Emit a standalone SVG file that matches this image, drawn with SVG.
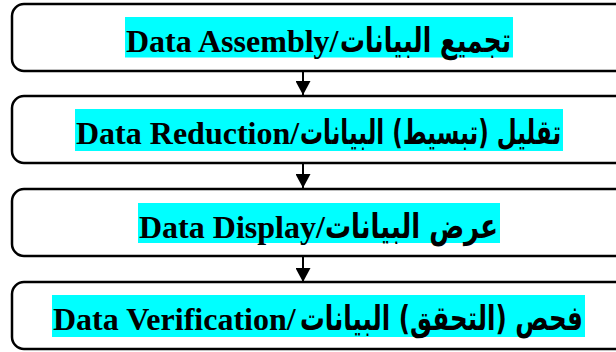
<svg xmlns="http://www.w3.org/2000/svg" width="616" height="352" viewBox="0 0 616 352">
  <style>
    .box { fill: #ffffff; stroke: #000000; stroke-width: 2.5; }
    .hl { fill: #00ffff; }
    .en { font-family: "Liberation Serif", "Times New Roman", serif; font-weight: bold; font-size: 32px; fill: #000000; }
    .ar { font-family: "DejaVu Sans", "Liberation Sans", sans-serif; font-weight: bold; font-size: 34px; fill: #000000; }
    .link { stroke: #000000; stroke-width: 2; fill: none; }
  </style>
  <defs>
    <marker id="head" viewBox="0 0 14 15" refX="14" refY="7.5" markerWidth="14" markerHeight="15" markerUnits="userSpaceOnUse" orient="auto">
      <path d="M0,0 L14,7.5 L0,15 z" fill="#000000"/>
    </marker>
  </defs>

  <rect width="616" height="352" fill="#ffffff"/>

  <g id="connectors">
    <line class="link" x1="303" y1="71" x2="303" y2="95" marker-end="url(#head)"/>
    <line class="link" x1="303" y1="163" x2="303" y2="188" marker-end="url(#head)"/>
    <line class="link" x1="303" y1="256" x2="303" y2="282" marker-end="url(#head)"/>
  </g>

  <g id="assembly">
    <rect class="box" x="12" y="4" width="620" height="67" rx="12"/>
    <rect class="hl" x="125" y="17" width="388" height="40.5"/>
    <text class="en" x="126" y="52">Data Assembly/</text>
    <text class="ar" x="340" y="52" textLength="171" lengthAdjust="spacingAndGlyphs">تجميع البيانات</text>
  </g>

  <g id="reduction">
    <rect class="box" x="12" y="96" width="620" height="67" rx="12"/>
    <rect class="hl" x="75" y="109" width="488" height="42"/>
    <text class="en" x="76" y="144">Data Reduction/</text>
    <!-- Arabic run narrowed horizontally to fit the highlight -->
    <text class="ar" transform="translate(300,144) scale(0.7,1)" x="0" y="0" textLength="373" lengthAdjust="spacingAndGlyphs">تقليل (تبسيط) البيانات</text>
  </g>

  <g id="display">
    <rect class="box" x="12" y="189" width="620" height="67" rx="12"/>
    <rect class="hl" x="138" y="203" width="362" height="40"/>
    <text class="en" x="139" y="238">Data Display/</text>
    <text class="ar" x="325" y="238" textLength="173" lengthAdjust="spacingAndGlyphs">عرض البيانات</text>
  </g>

  <g id="verification">
    <rect class="box" x="12" y="282" width="620" height="67" rx="12"/>
    <rect class="hl" x="52" y="295" width="533" height="42"/>
    <text class="en" x="53" y="330">Data Verification/</text>
    <text class="ar" transform="translate(300,330) scale(0.7,1)" x="0" y="0" textLength="404" lengthAdjust="spacingAndGlyphs">فحص (التحقق) البيانات</text>
  </g>
</svg>
